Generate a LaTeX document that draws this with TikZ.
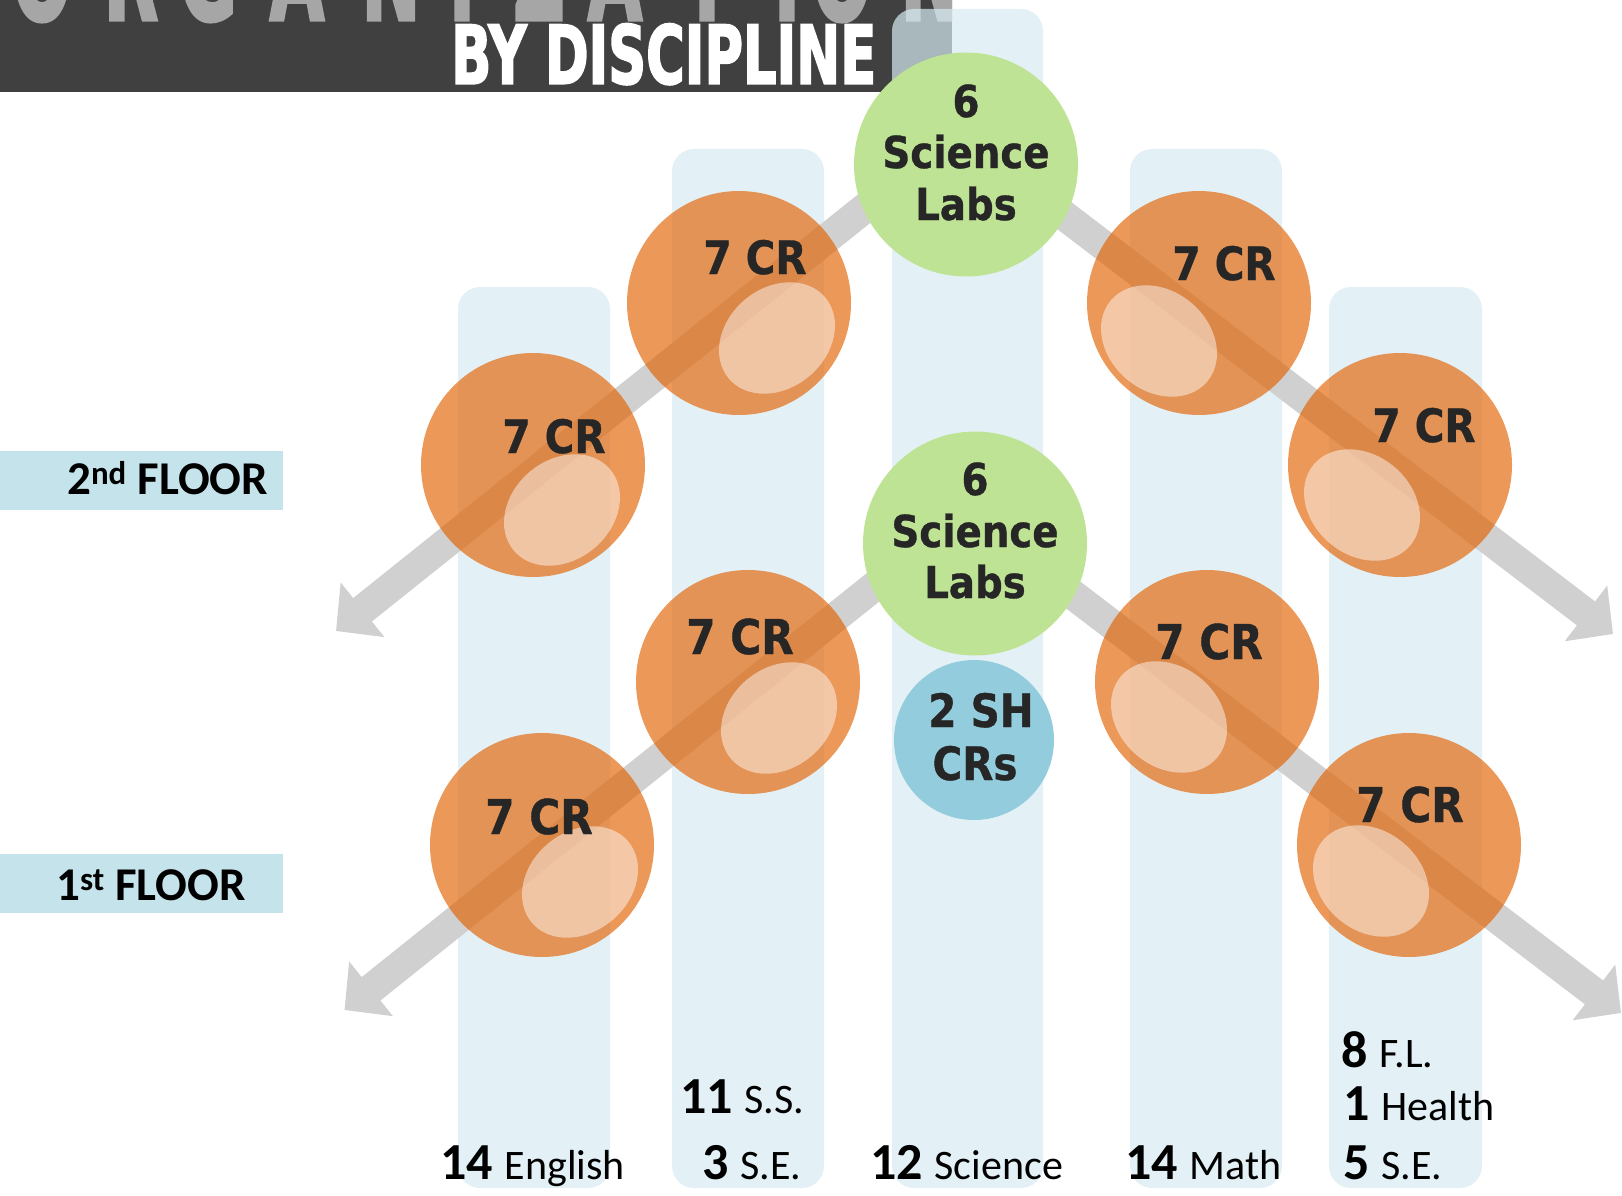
\documentclass[tikz,border=0pt]{standalone}
\usepackage{fontspec}
\usepackage{graphicx}
\usetikzlibrary{arrows.meta,shapes.geometric}
\newfontfamily\cf[FakeStretch=0.88,FakeBold=0.8]{DejaVu Sans}
\newfontfamily\hf[FakeStretch=0.88,FakeBold=2.5]{DejaVu Sans}
\newfontfamily\lf{Carlito}
\definecolor{barc}{HTML}{404040}
\definecolor{orgc}{HTML}{A6A6A6}
\definecolor{colb}{RGB}{215,235,242}
\definecolor{bandc}{HTML}{D0D0D0}
\definecolor{orng}{RGB}{226,97,0}
\definecolor{grn}{HTML}{BFE394}
\definecolor{shb}{HTML}{93CDDD}
\definecolor{txtc}{HTML}{262626}
\definecolor{floorc}{HTML}{C5E3EA}
\newcommand\nbf{\lf\bfseries\fontsize{52}{52}\selectfont}
\newcommand\nwf{\lf\mdseries\fontsize{42}{42}\selectfont}
\tikzset{
  col/.style={fill=colb, fill opacity=0.7, rounded corners=22pt},
  band/.style={draw=bandc, line width=30pt, -{Triangle[length=34pt,width=68pt]}},
  crc/.style={circle, minimum size=224pt, inner sep=0pt, fill=orng, fill opacity=0.65},
  hl/.style={ellipse, minimum width=126pt, minimum height=100pt, inner sep=0pt, fill=white, fill opacity=0.47},
  grc/.style={circle, minimum size=224pt, inner sep=0pt, fill=grn},
  crt/.style={anchor=base, inner sep=0pt, text=txtc, font=\cf\bfseries\fontsize{46}{46}\selectfont},
  crtb/.style={crt, font=\cf\bfseries\fontsize{48}{48}\selectfont},
  grt/.style={anchor=base, inner sep=0pt, text=txtc, font=\cf\bfseries\fontsize{44}{44}\selectfont},
  orgl/.style={anchor=base, inner sep=0pt, text=orgc, font=\hf\bfseries\fontsize{70}{70}\selectfont},
  fll/.style={anchor=base west, inner sep=0pt, text=black, font=\lf\bfseries\fontsize{47}{47}\selectfont},
  btl/.style={anchor=base west, inner sep=0pt, text=black}
}
\begin{document}
\begin{tikzpicture}[x=1pt,y=-1pt]
\useasboundingbox (0,0) rectangle (1622,1196);
% header bar
\fill[barc] (0,0) rectangle (952,92);
\begin{scope}
\clip (0,0) rectangle (952,92);
\foreach \c/\L [count=\i] in {42/O,131/R,208/G,297/A,391/N,462/I,539/Z,615/A,707/T,787/I,842/O,930/N}
  \node[orgl] (org\i) at (\c,20) {\scalebox{1.15}[1.9]{\L}};
\end{scope}
\node[anchor=south west, inner sep=0pt, text=white] (bydisc) at (451,85)
  {\resizebox{425pt}{60pt}{\hf\bfseries BY DISCIPLINE}};
% columns
\path[col] (458,287) rectangle (610,1188);
\path[col] (672,149) rectangle (824,1188);
\path[col] (892,9) rectangle (1043,1188);
\path[col] (1130,149) rectangle (1282,1188);
\path[col] (1329,287) rectangle (1482,1188);
% floor labels
\fill[floorc] (0,451) rectangle (283,510);
\fill[floorc] (0,854) rectangle (283,913);
\node[fll] (fl2) at (67,494) {2\textsuperscript{nd} FLOOR};
\node[fll] (fl1) at (56,900) {1\textsuperscript{st} FLOOR};
% arrow coordinates
\coordinate (L2s) at (940,148);  \coordinate (L2t) at (336,631);
\coordinate (R2s) at (990,159);  \coordinate (R2t) at (1613,634);
\coordinate (L1s) at (948.5,527); \coordinate (L1t) at (344.5,1010);
\coordinate (R1s) at (998.5,538); \coordinate (R1t) at (1621,1013);
\draw[band] (L2s) -- (L2t);
\draw[band] (R2s) -- (R2t);
\draw[band] (L1s) -- (L1t);
\draw[band] (R1s) -- (R1t);
% orange circles
\node[crc] (A) at (533,465) {};
\node[crc] (B) at (739,303) {};
\node[crc] (C) at (1199,303) {};
\node[crc] (D) at (1400,465) {};
\node[crc] (E) at (542,845) {};
\node[crc] (F) at (748,682) {};
\node[crc] (H) at (1207,682) {};
\node[crc] (I) at (1409,845) {};
% highlights
\node[hl, rotate=40] (hA) at (562,510) {};
\node[hl, rotate=40] (hB) at (777,338) {};
\node[hl, rotate=-40] (hC) at (1159,341) {};
\node[hl, rotate=-40] (hD) at (1362,505) {};
\node[hl, rotate=40] (hE) at (580,882) {};
\node[hl, rotate=40] (hF) at (779,718) {};
\node[hl, rotate=-40] (hH) at (1169,717) {};
\node[hl, rotate=-40] (hI) at (1371,881) {};
% green and blue circles
\node[grc] (G1) at (966,164.5) {};
\node[grc] (G2) at (975,543.5) {};
\node[circle, minimum size=160pt, inner sep=0pt, fill=shb] (SH) at (974,740) {};
% texts
\node[crt] (tA) at (554,453) {7 CR};
\node[crt] (tB) at (755,274) {7 CR};
\node[crt] (tC) at (1224,280) {7 CR};
\node[crt] (tD) at (1424,442) {7 CR};
\node[crtb] (tE) at (539,834) {7 CR};
\node[crtb] (tF) at (740,654) {7 CR};
\node[crtb] (tH) at (1209,659) {7 CR};
\node[crtb] (tI) at (1410,822) {7 CR};
\node[grt] (g1a) at (966,117) {6};
\node[grt] (g1b) at (966,168) {Science};
\node[grt] (g1c) at (966,220) {Labs};
\node[grt] (g2a) at (975,495) {6};
\node[grt] (g2b) at (975,547) {Science};
\node[grt] (g2c) at (975,598) {Labs};
\node[crt] (sha) at (981,727) {2 SH};
\node[crt] (shc) at (975,780) {CRs};
% bottom labels
\node[btl] (b1) at (440,1179) {\nbf 14 \nwf English};
\node[btl] (b2a) at (680,1113) {\nbf 11 \nwf S.S.};
\node[btl] (b2b) at (702,1179) {\nbf 3 \nwf S.E.};
\node[btl] (b3) at (870,1179) {\nbf 12 \nwf Science};
\node[btl] (b4) at (1125,1179) {\nbf 14 \nwf Math};
\node[btl] (b5a) at (1341,1067) {\nbf 8 \nwf F.L.};
\node[btl] (b5b) at (1343,1120) {\nbf 1 \nwf Health};
\node[btl] (b5c) at (1343,1179) {\nbf 5 \nwf S.E.};
\end{tikzpicture}
\end{document}
